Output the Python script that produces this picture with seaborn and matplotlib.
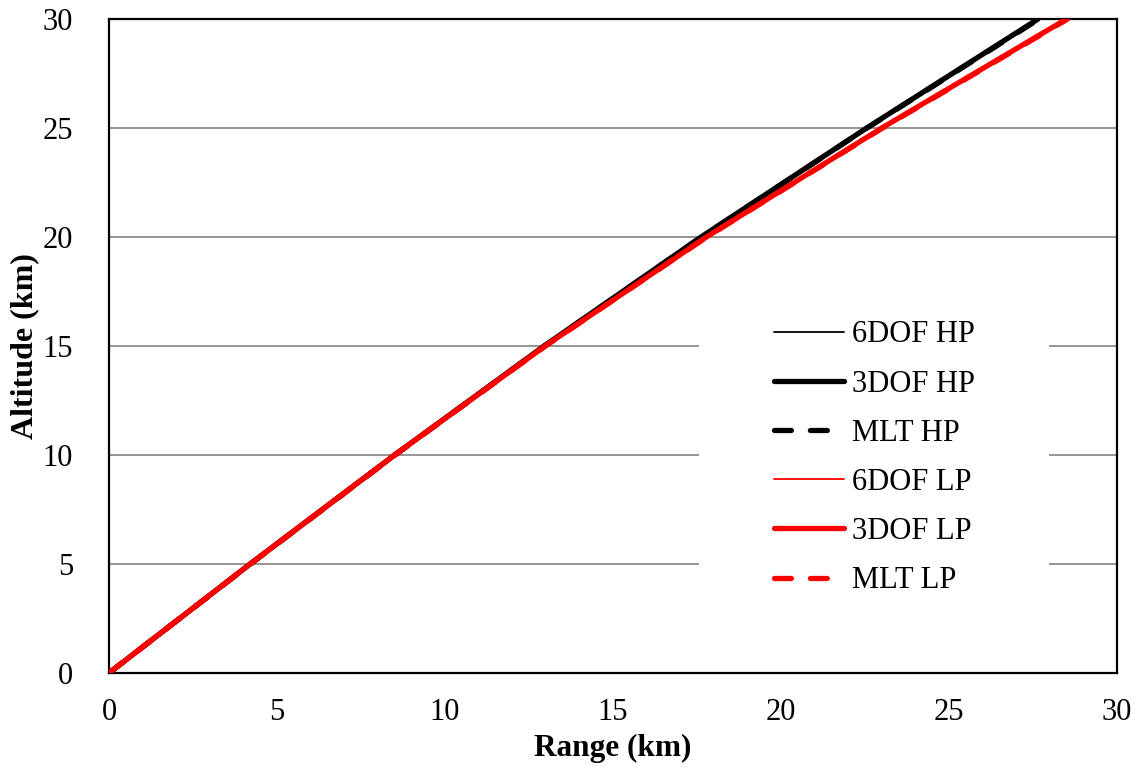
import matplotlib
matplotlib.use("Agg")
import matplotlib.pyplot as plt
import seaborn as sns
import pandas as pd

# Trajectory samples: altitude (km) against downrange distance (km)
altitude = [0, 5, 10, 15, 20, 25, 30]

range_6dof_hp = [0, 4.20, 8.50, 12.94, 17.60, 22.52, 27.62]
range_3dof_hp = [0, 4.20, 8.50, 12.95, 17.62, 22.55, 27.65]
range_mlt_hp = [0, 4.21, 8.51, 12.96, 17.63, 22.56, 27.68]
range_6dof_lp = [0, 4.20, 8.50, 12.97, 17.76, 22.97, 28.45]
range_3dof_lp = [0, 4.20, 8.50, 12.98, 17.78, 23.00, 28.50]
range_mlt_lp = [0, 4.21, 8.51, 12.99, 17.79, 23.02, 28.53]

series_names = ["6DOF HP", "3DOF HP", "MLT HP", "6DOF LP", "3DOF LP", "MLT LP"]
series_ranges = [range_6dof_hp, range_3dof_hp, range_mlt_hp,
                 range_6dof_lp, range_3dof_lp, range_mlt_lp]

x_ticks = [0, 5, 10, 15, 20, 25, 30]
y_ticks = [0, 5, 10, 15, 20, 25, 30]

frames = []
for name, rng in zip(series_names, series_ranges):
    frames.append(pd.DataFrame({"Range": rng, "Altitude": altitude, "Case": name}))
df = pd.concat(frames, ignore_index=True)

sns.set_style("white")
plt.rcParams["font.family"] = ["Liberation Serif", "DejaVu Serif"]
plt.rcParams["text.color"] = "black"
plt.rcParams["axes.labelcolor"] = "black"
plt.rcParams["xtick.color"] = "black"
plt.rcParams["ytick.color"] = "black"

fig = plt.figure(figsize=(11.44, 7.67), dpi=100)
ax = fig.add_axes([0.0953, 0.1226, 0.8811, 0.8526])

styles = {
    "6DOF HP": dict(color="black", lw=1.3, ls="-"),
    "3DOF HP": dict(color="black", lw=3.8, ls="-"),
    "MLT HP": dict(color="black", lw=3.8, ls=(0, (3.2, 3.6))),
    "6DOF LP": dict(color="#ff0000", lw=1.3, ls="-"),
    "3DOF LP": dict(color="#ff0000", lw=3.8, ls="-"),
    "MLT LP": dict(color="#ff0000", lw=3.8, ls=(0, (3.2, 3.6))),
}

for name in series_names:
    st = styles[name]
    sub = df[df["Case"] == name]
    sns.lineplot(data=sub, x="Range", y="Altitude", ax=ax, sort=False,
                 estimator=None, color=st["color"], linewidth=st["lw"],
                 linestyle=st["ls"], label=name, zorder=3,
                 solid_capstyle="round", dash_capstyle="round")

ax.set_xlim(0, 30)
ax.set_ylim(0, 30)
ax.set_xticks(x_ticks)
ax.set_yticks(y_ticks)
ax.set_xticklabels([str(t) for t in x_ticks])
ax.set_yticklabels([str(t) for t in y_ticks])

# Horizontal grid only, gray, beneath the curves
for yv in y_ticks[1:-1]:
    ax.axhline(yv, color="#8c8c8c", lw=1.3, zorder=1)

for sp in ax.spines.values():
    sp.set_visible(True)
    sp.set_color("black")
    sp.set_linewidth(1.6)

ax.tick_params(axis="both", which="major", direction="in", length=8,
               width=1.3, color="black", labelsize=22, labelcolor="black")
ax.tick_params(axis="x", pad=18)
ax.tick_params(axis="y", pad=26)

ax.set_xlabel("Range (km)", fontsize=22.5, fontweight="bold", labelpad=5,
              color="black")
ax.set_ylabel("Altitude (km)", fontsize=23, fontweight="bold", labelpad=2,
              color="black")

leg = ax.legend(loc="center", bbox_to_anchor=(0.759, 0.329), fontsize=22,
                frameon=True, facecolor="white", edgecolor="white",
                framealpha=1.0, fancybox=False, handlelength=2.3,
                handletextpad=0.25, labelspacing=0.66, borderpad=2.45)
leg.get_frame().set_linewidth(0)
leg.set_zorder(2)
for t in leg.get_texts():
    t.set_color("black")

fig.savefig("out.png", dpi=100, facecolor="white")
